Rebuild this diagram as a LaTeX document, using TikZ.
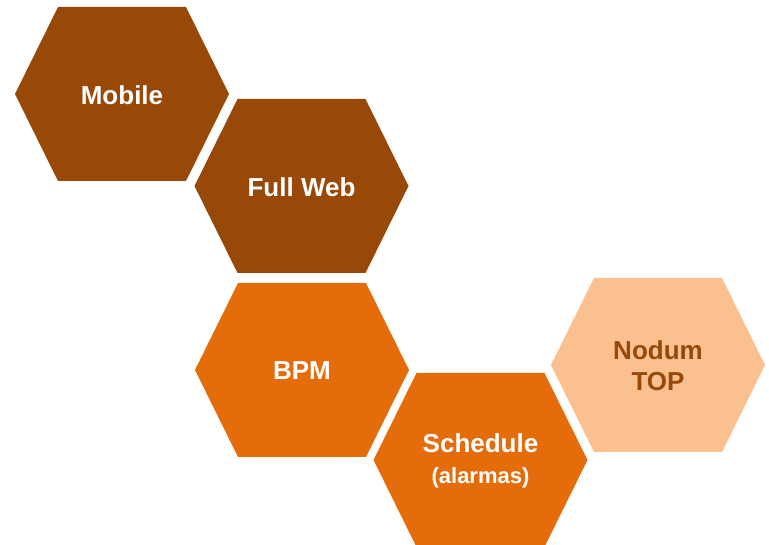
\documentclass[tikz,border=0pt]{standalone}
\usepackage{fontspec}
\setmainfont{Liberation Sans}
\usepackage{xcolor}
\definecolor{hexbrown}{HTML}{984807}
\definecolor{hexorange}{HTML}{E46C0A}
\definecolor{hexlight}{HTML}{FAC090}
\tikzset{
  hexlabel/.style={font=\bfseries\fontsize{19.5}{23.5}\selectfont,text=white,align=center},
}

\begin{document}
\begin{tikzpicture}[x=0.75pt,y=-0.75pt]
        \useasboundingbox (0,0) rectangle (769,545);
        \fill[hexbrown] (15,94) -- (58,7) -- (186,7) -- (229,94) -- (186,181) -- (58,181) -- cycle;
        \fill[hexbrown] (194.5,186) -- (237.5,99) -- (365.5,99) -- (408.5,186) -- (365.5,273) -- (237.5,273) -- cycle;
        \fill[hexorange] (195,370) -- (238,283) -- (366,283) -- (409,370) -- (366,457) -- (238,457) -- cycle;
        \fill[hexorange] (373.5,460) -- (416.5,373) -- (544.5,373) -- (587.5,460) -- (544.5,547) -- (416.5,547) -- cycle;
        \fill[hexlight] (551,365) -- (594,278) -- (722,278) -- (765,365) -- (722,452) -- (594,452) -- cycle;
        \node[hexlabel] (mobile) at (122,95) {Mobile};
        \node[hexlabel] (fullweb) at (301.5,187) {Full Web};
        \node[hexlabel] (bpm) at (302,371) {BPM};
        \node[hexlabel] (schedule) at (480.5,461) {Schedule\\{\fontsize{16.5}{20}\selectfont (alarmas)}};
        \node[hexlabel,text=hexbrown] (nodum) at (658,366) {Nodum\\TOP};
    \end{tikzpicture}
\end{document}
